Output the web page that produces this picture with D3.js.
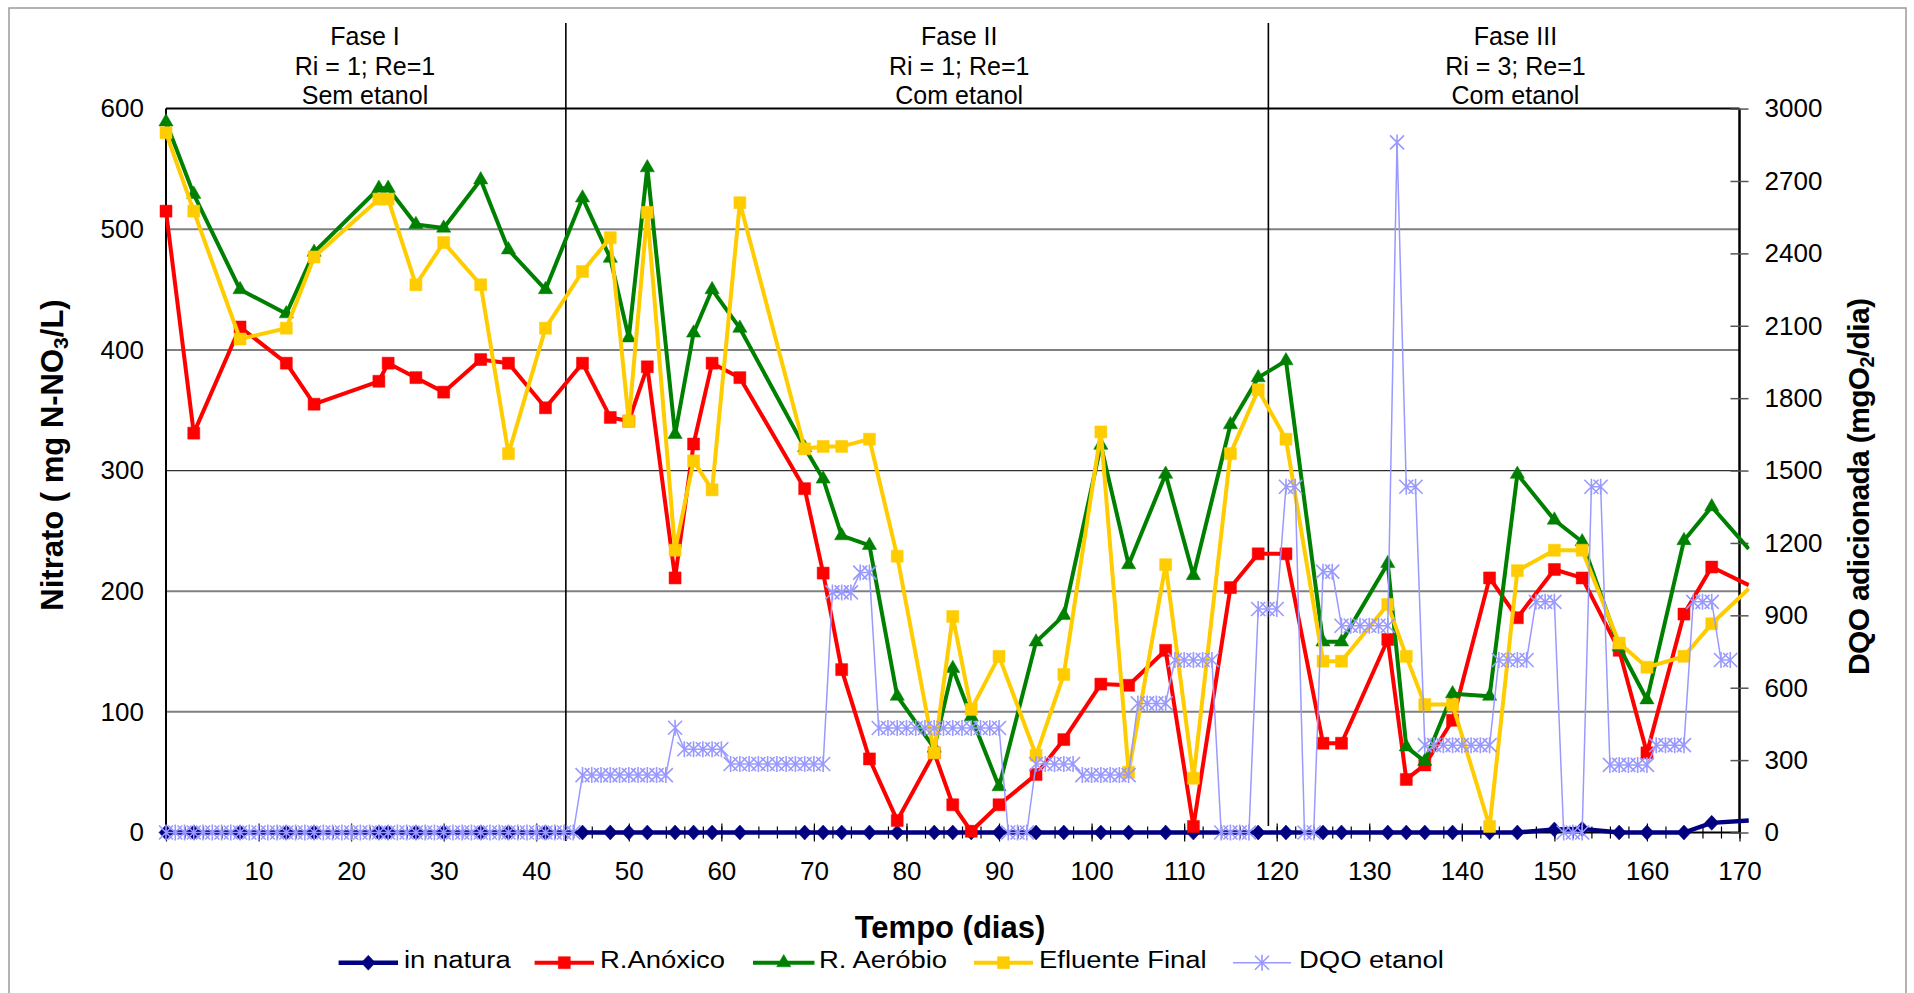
<!DOCTYPE html>
<html>
<head>
<meta charset="utf-8">
<script src="https://cdn.jsdelivr.net/npm/d3@7"></script>
<style>
  html, body { margin: 0; padding: 0; background: #fff; }
  svg { display: block; }
  text { font-family: "Liberation Sans", Arial, Helvetica, sans-serif; fill: #000; }
</style>
</head>
<body>
<svg id="chart" width="1914" height="993"></svg>
<script>
// ---- data -----------------------------------------------------------------
// sampling days (dias) for the nitrate series
const days = [0,3,8,13,16,23,24,27,30,34,37,41,45,48,50,52,55,57,59,62,
              69,71,73,76,79,83,85,87,90,94,97,101,104,108,111,115,118,121,125,127,
              132,134,136,139,143,146,150,153,157,160,164,167,171];

// nitrate (mg N-NO3/L)
const rAnoxico = [515,331,419,389,355,374,389,377,365,392,
                  389,352,389,344,341,386,211,322,389,377,
                  285,215,135,61,10,66,23,1,23,48,
                  77,123,122,151,5,203,231,231,74,74,
                  160,44,56,93,211,178,218,211,151,66,
                  181,220,205];
const rAerobio = [589,529,450,430,481,534,534,504,501,541,
                  483,450,526,476,410,551,330,414,450,418,
                  319,293,246,238,113,70,136,96,38,158,
                  180,321,222,297,213,338,377,391,158,158,
                  223,71,59,115,113,297,259,241,154,110,
                  242,270,235];
const efluenteFinal = [580,515,409,418,477,525,525,454,489,454,
                       314,418,465,493,341,514,234,308,284,522,
                       318,320,320,326,229,66,179,102,146,64,
                       131,332,50,222,45,314,367,326,142,142,
                       189,146,106,106,5,217,234,234,157,137,
                       146,173,202];

// raw influent ("in natura")
const inNaturaDays = [0,3,8,13,16,23,24,27,30,34,37,41,45,48,50,52,55,57,59,62,
                      69,71,73,76,79,83,85,87,90,94,97,101,104,108,111,118,121,125,127,132,
                      134,136,139,143,146,150,153,157,160,164,167,171];
const inNatura = [0,0,0,0,0,0,0,0,0,0,0,0,0,0,0,0,0,0,0,0,
                  0,0,0,0,0,0,0,0,0,0,0,0,0,0,0,0,0,0,0,0,
                  0,0,0,0,0,2.5,3,0,0,0,8,10];

// ethanol COD dosed (mgO2/dia), daily
const dqoDays = [0,1,2,3,4,5,6,7,8,9,10,11,12,13,14,15,16,17,18,19,
                 20,21,22,23,24,25,26,27,28,29,30,31,32,33,34,35,36,37,38,39,
                 40,41,42,43,44,45,46,47,48,49,50,51,52,53,54,55,56,57,58,59,
                 60,61,62,63,64,65,66,67,68,69,70,71,72,73,74,75,76,77,78,79,
                 80,81,82,83,84,85,86,87,88,89,90,91,92,93,94,95,96,97,98,99,
                 100,101,102,103,104,105,106,107,108,109,110,111,112,113,114,115,116,117,118,119,
                 120,121,122,123,124,125,126,127,128,129,130,131,132,133,134,135,136,137,138,139,
                 140,141,142,143,144,145,146,147,148,149,150,151,152,153,154,155,156,157,158,159,
                 160,161,162,163,164,165,166,167,168,169];
const dqoEtanol = [0,0,0,0,0,0,0,0,0,0,0,0,0,0,0,0,0,0,0,0,
                   0,0,0,0,0,0,0,0,0,0,0,0,0,0,0,0,0,0,0,0,
                   0,0,0,0,0,238,238,238,238,238,238,238,238,238,238,434,345,345,345,345,
                   345,284,284,284,284,284,284,284,284,284,284,284,995,995,995,1077,1077,433,433,433,
                   433,433,433,433,433,433,433,433,433,433,433,0,0,0,284,284,284,284,284,238,
                   238,238,238,238,238,535,535,535,535,715,715,715,715,715,0,0,0,0,926,926,
                   926,1433,1433,0,0,1081,1081,857,857,857,857,857,857,2860,1433,1433,362,362,362,362,
                   362,362,362,362,715,715,715,715,956,956,956,0,0,0,1433,1433,280,280,280,280,
                   280,362,362,362,362,956,956,956,715,715];

// axis ticks
const xTicks = [0,10,20,30,40,50,60,70,80,90,100,110,120,130,140,150,160,170];
const xMinorTicks = [0,2,4,6,8,10,12,14,16,18,20,22,24,26,28,30,32,34,36,38,40,42,44,46,48,50,
                     52,54,56,58,60,62,64,66,68,70,72,74,76,78,80,82,84,86,88,90,92,94,96,98,100,
                     102,104,106,108,110,112,114,116,118,120,122,124,126,128,130,132,134,136,138,140,
                     142,144,146,148,150,152,154,156,158,160,162,164,166,168,170];
const yLeftTicks = [0,100,200,300,400,500,600];
const yRightTicks = [0,300,600,900,1200,1500,1800,2100,2400,2700,3000];

// operating phases
const phaseBounds = [43.2, 119.1];
const phaseNames = ["Fase I", "Fase II", "Fase III"];
const phaseRatios = ["Ri = 1; Re=1", "Ri = 1; Re=1", "Ri = 3; Re=1"];
const phaseEthanol = ["Sem etanol", "Com etanol", "Com etanol"];
const phaseCenters = [21.5, 85.7, 145.8];

// ---- layout ---------------------------------------------------------------
const svg = d3.select("#chart");
const L = 166, R = 1739.5, T = 108.6, B = 832.5;

const x = d3.scaleLinear().domain([0, 170]).range([L, R]);
const yL = d3.scaleLinear().domain([0, 600]).range([B, T]);
const yR = d3.scaleLinear().domain([0, 3000]).range([B, T]);

// outer frame
svg.append("rect").attr("x", 9).attr("y", 8).attr("width", 1897).attr("height", 1000)
  .attr("fill", "none").attr("stroke", "#9a9a9a").attr("stroke-width", 1.5);

// horizontal gridlines
svg.append("g").selectAll("line").data(yLeftTicks.filter(v => v > 0 && v < 600)).join("line")
  .attr("x1", L).attr("x2", R)
  .attr("y1", d => yL(d)).attr("y2", d => yL(d))
  .attr("stroke", d => d === 300 ? "#303030" : "#808080")
  .attr("stroke-width", d => d === 300 ? 1.3 : 2);

// phase dividers
svg.append("g").selectAll("line").data(phaseBounds).join("line")
  .attr("x1", d => x(d)).attr("x2", d => x(d))
  .attr("y1", 23).attr("y2", (d, i) => i === 0 ? 841 : 826)
  .attr("stroke", "#000").attr("stroke-width", 1.6);

// phase labels
const ph = svg.append("g").attr("font-size", 25).attr("text-anchor", "middle");
phaseNames.forEach((n, i) => {
  const cx = x(phaseCenters[i]);
  ph.append("text").attr("x", cx).attr("y", 45).text(n);
  ph.append("text").attr("x", cx).attr("y", 74.5).text(phaseRatios[i]);
  ph.append("text").attr("x", cx).attr("y", 104).text(phaseEthanol[i]);
});

// plot frame (top edge, left/right axes)
svg.append("line").attr("x1", L).attr("x2", R).attr("y1", T).attr("y2", T)
  .attr("stroke", "#000").attr("stroke-width", 2);
svg.append("line").attr("x1", L).attr("x2", L).attr("y1", T).attr("y2", B)
  .attr("stroke", "#000").attr("stroke-width", 2);
svg.append("line").attr("x1", R).attr("x2", R).attr("y1", T).attr("y2", B + 1)
  .attr("stroke", "#000").attr("stroke-width", 2.5);

// x axis: minor ticks every 2 days, major every 10 with labels
const xMinor = svg.append("g").attr("transform", `translate(0,${B})`)
  .call(d3.axisBottom(x).tickValues(xMinorTicks).tickSize(6).tickFormat(""));
xMinor.select(".domain").remove();
xMinor.selectAll(".tick line").attr("y1", -6).attr("stroke", "#000").attr("stroke-width", 1.2);

const xAxis = svg.append("g").attr("transform", `translate(0,${B})`)
  .call(d3.axisBottom(x).tickValues(xTicks).tickSize(9).tickPadding(20).tickFormat(d3.format("d")));
xAxis.select(".domain").attr("stroke", "#000").attr("stroke-width", 2.2).attr("d", `M${L},0H${R}`);
xAxis.selectAll(".tick line").attr("y1", -9).attr("stroke", "#000").attr("stroke-width", 1.2);
xAxis.selectAll(".tick text").attr("font-size", 26).attr("font-family", '"Liberation Sans", Arial, sans-serif').attr("fill", "#000");

// left axis labels
const yAxisL = svg.append("g").attr("transform", `translate(${L},0)`)
  .call(d3.axisLeft(yL).tickValues(yLeftTicks).tickSize(0).tickPadding(22).tickFormat(d3.format("d")));
yAxisL.select(".domain").remove();
yAxisL.selectAll(".tick text").attr("font-size", 26).attr("font-family", '"Liberation Sans", Arial, sans-serif').attr("fill", "#000");

// right axis (secondary, DQO)
const yAxisR = svg.append("g").attr("transform", `translate(${R},0)`)
  .call(d3.axisRight(yR).tickValues(yRightTicks).tickSize(9).tickPadding(16).tickFormat(d3.format("d")));
yAxisR.select(".domain").remove();
yAxisR.selectAll(".tick line").attr("x1", -9).attr("stroke", "#555").attr("stroke-width", 1.5);
yAxisR.selectAll(".tick text").attr("font-size", 26).attr("font-family", 'Lato, "Open Sans", sans-serif').attr("fill", "#000");

// axis titles
const tl = svg.append("text").attr("transform", "translate(63,455) rotate(-90)")
  .attr("text-anchor", "middle").attr("font-size", 31).attr("font-weight", "bold");
tl.append("tspan").text("Nitrato ( mg N-NO");
tl.append("tspan").attr("font-size", 21).attr("dy", 5).text("3");
tl.append("tspan").attr("dy", -5).text("/L)");

const tr = svg.append("text").attr("transform", "translate(1869,486.5) rotate(-90)")
  .attr("text-anchor", "middle").attr("font-size", 30).attr("font-weight", "bold")
  .attr("font-family", 'Lato, "Open Sans", sans-serif')
  .attr("textLength", 377).attr("lengthAdjust", "spacing");
tr.append("tspan").text("DQO adicionada (mgO");
tr.append("tspan").attr("font-size", 20).attr("dy", 5).text("2");
tr.append("tspan").attr("dy", -5).text("/dia)");

svg.append("text").attr("x", 950).attr("y", 938).attr("text-anchor", "middle")
  .attr("font-size", 31).attr("font-weight", "bold").text("Tempo (dias)");

// ---- series ---------------------------------------------------------------
const clip = svg.append("defs").append("clipPath").attr("id", "plotClip");
clip.append("rect").attr("x", L - 10).attr("y", 0).attr("width", R - L + 20).attr("height", B + 20);

const diamond = "M0,-7.5L7,0L0,7.5L-7,0Z";
const square = d3.symbol().type(d3.symbolSquare).size(144)();
const triangle = d3.symbol().type(d3.symbolTriangle).size(88)();
const star = "M-7,-7L7,7M-7,7L7,-7M0,-8L0,8";

const series = [
  { name: "in natura", xs: inNaturaDays, ys: inNatura, scale: yL, color: "#000080", width: 4.4, marker: diamond, filled: true },
  { name: "R.Anóxico", xs: days, ys: rAnoxico, scale: yL, color: "#FF0000", width: 4, marker: square, filled: true },
  { name: "R. Aeróbio", xs: days, ys: rAerobio, scale: yL, color: "#008000", width: 4, marker: triangle, filled: true },
  { name: "Efluente Final", xs: days, ys: efluenteFinal, scale: yL, color: "#FFCC00", width: 4, marker: square, filled: true },
  { name: "DQO etanol", xs: dqoDays, ys: dqoEtanol, scale: yR, color: "#9999FF", width: 1.5, marker: star, filled: false }
];

const plot = svg.append("g").attr("clip-path", "url(#plotClip)");
series.forEach(s => {
  const pts = s.xs.map((d, i) => ({ d, v: s.ys[i] }));
  const g = plot.append("g");
  g.append("path").datum(pts)
    .attr("fill", "none").attr("stroke", s.color).attr("stroke-width", s.width)
    .attr("stroke-linejoin", "round")
    .attr("d", d3.line().x(p => x(p.d)).y(p => s.scale(p.v)));
  g.selectAll("path.mk").data(pts.filter(p => p.d <= 170)).join("path").attr("class", "mk")
    .attr("transform", p => `translate(${x(p.d)},${s.scale(p.v)})`)
    .attr("d", s.marker)
    .attr("fill", s.filled ? s.color : "none")
    .attr("stroke", s.color).attr("stroke-width", s.filled ? 0.5 : 1.6);
});

// ---- legend ---------------------------------------------------------------
const legendPos = [
  { x1: 338.6, x2: 398, tx: 404 },
  { x1: 534.6, x2: 594, tx: 600 },
  { x1: 753, x2: 814.5, tx: 819 },
  { x1: 974, x2: 1033, tx: 1039 },
  { x1: 1233, x2: 1291, tx: 1299 }
];
const lg = svg.append("g");
series.forEach((s, i) => {
  const p = legendPos[i], ly = 962.7;
  lg.append("line").attr("x1", p.x1).attr("x2", p.x2).attr("y1", ly).attr("y2", ly)
    .attr("stroke", s.color).attr("stroke-width", s.width);
  lg.append("path").attr("transform", `translate(${(p.x1 + p.x2) / 2},${ly})`)
    .attr("d", s.marker).attr("fill", s.filled ? s.color : "none")
    .attr("stroke", s.color).attr("stroke-width", s.filled ? 0.5 : 1.6);
  lg.append("text").attr("transform", `translate(${p.tx},968) scale(1.12,1)`)
    .attr("font-size", 24.5).text(s.name);
});
</script>
</body>
</html>
